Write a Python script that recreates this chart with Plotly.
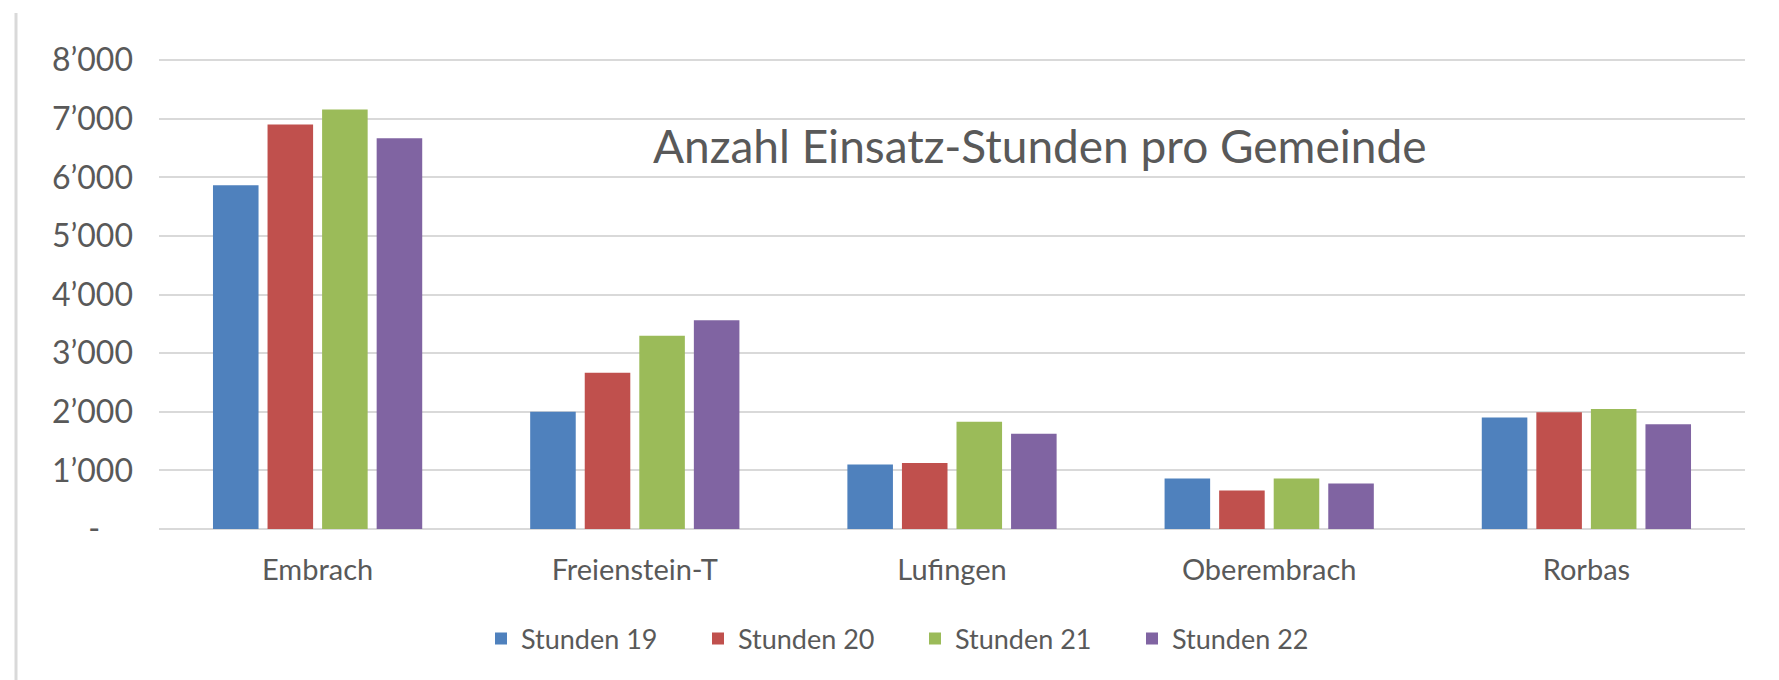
import plotly.graph_objects as go

categories = ["Embrach", "Freienstein-T", "Lufingen", "Oberembrach", "Rorbas"]
series_names = ["Stunden 19", "Stunden 20", "Stunden 21", "Stunden 22"]
stunden_19 = [5867, 2000, 1100, 863, 1903]
stunden_20 = [6903, 2667, 1128, 657, 1994]
stunden_21 = [7159, 3299, 1829, 863, 2046]
stunden_22 = [6666, 3561, 1624, 777, 1787]
colors = ["#4F81BD", "#C0504D", "#9BBB59", "#8064A2"]
tick_vals = [0, 1000, 2000, 3000, 4000, 5000, 6000, 7000, 8000]
tick_text = ["-\u00a0\u00a0\u00a0\u00a0", "1\u2019000", "2\u2019000", "3\u2019000", "4\u2019000",
             "5\u2019000", "6\u2019000", "7\u2019000", "8\u2019000"]
title_text = "Anzahl Einsatz-Stunden pro Gemeinde"

W, H = 1779, 680
L, R, T, B = 151, 1737, 51, 521

def px_x(x):
    return (x - L) / (R - L)

def px_y(y):
    return (B - y) / (B - T)

FONT = "Lato"
GRAY = "#595959"

fig = go.Figure()
for name, vals, c in zip(series_names, [stunden_19, stunden_20, stunden_21, stunden_22], colors):
    fig.add_trace(go.Bar(x=categories, y=vals, name=name, marker=dict(color=c, line=dict(width=0))))

fig.update_layout(
    width=W, height=H,
    margin=dict(l=L, r=W - R, t=T, b=H - B, pad=0),
    paper_bgcolor="white", plot_bgcolor="white",
    barmode="group", bargap=0.312, bargroupgap=0.165,
    font=dict(family=FONT, color=GRAY),
    showlegend=True,
    legend=dict(orientation="h", x=px_x(473), xanchor="left", y=px_y(631), yanchor="middle",
                font=dict(family=FONT, size=27, color=GRAY),
                entrywidth=172, entrywidthmode="pixels", itemsizing="constant",
                bgcolor="rgba(0,0,0,0)"),
    annotations=[dict(text=title_text, x=px_x(1032), y=px_y(137), xref="paper", yref="paper",
                      showarrow=False, xanchor="center", yanchor="middle",
                      font=dict(family=FONT, size=46, color=GRAY))],
    shapes=[
        dict(type="line", xref="paper", yref="paper", x0=px_x(8), x1=px_x(8), y0=px_y(5), y1=px_y(680),
             line=dict(color="#D9D9D9", width=3)),
        dict(type="line", xref="paper", yref="paper", x0=px_x(1775), x1=px_x(1775), y0=px_y(5), y1=px_y(680),
             line=dict(color="#D9D9D9", width=3)),
    ],
)
fig.update_xaxes(showgrid=False, showline=False, ticks="", zeroline=False,
                 tickfont=dict(family=FONT, size=29, color=GRAY), ticklabelstandoff=21)
fig.update_yaxes(range=[0, 8020], tickvals=tick_vals, ticktext=tick_text, showgrid=True,
                 gridcolor="#D9D9D9", gridwidth=2, zeroline=True, zerolinecolor="#D9D9D9",
                 zerolinewidth=2, showline=False, ticks="",
                 tickfont=dict(family=FONT, size=32, color=GRAY), ticklabelstandoff=25)

fig.write_html("out.html")
